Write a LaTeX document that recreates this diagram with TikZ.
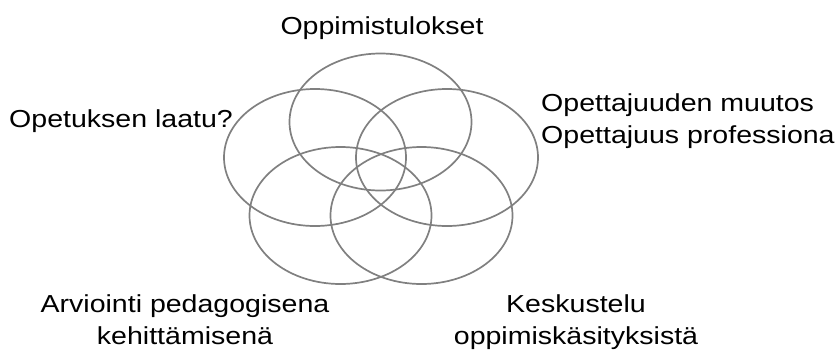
\documentclass[tikz,border=0pt]{standalone}
\usepackage{fontspec}
\setmainfont{Liberation Sans}[FakeStretch=1.16]
\usetikzlibrary{shapes.geometric}
\definecolor{ringgray}{RGB}{128,128,128}
\begin{document}
\begin{tikzpicture}[x=1pt,y=-1pt,
  ring/.style={ellipse, draw=ringgray, line width=1.7pt, minimum width=182pt, minimum height=137pt, inner sep=0pt},
  lbl/.style={inner sep=0pt, font=\fontsize{24.6}{32}\selectfont, text=black}]
\useasboundingbox (0,0) rectangle (835,349);
\node[ring] (top) at (380.5,122) {};
\node[ring] (left) at (315,157.5) {};
\node[ring] (right) at (447,157.5) {};
\node[ring] (bl) at (340.5,215.5) {};
\node[ring] (br) at (421.5,215.5) {};
\node[lbl, anchor=base] (t1) at (382,34) {Oppimistulokset};
\node[lbl, anchor=base west] (t2) at (9,127.5) {Opetuksen laatu?};
\node[lbl, anchor=base west, align=left] (t3) at (541,143) {Opettajuuden muutos\\Opettajuus professiona};
\node[lbl, anchor=base, align=center] (t4) at (185,344) {Arviointi pedagogisena\\kehittämisenä};
\node[lbl, anchor=base, align=center] (t5) at (576,344) {Keskustelu\\oppimiskäsityksistä};
\end{tikzpicture}
\end{document}
